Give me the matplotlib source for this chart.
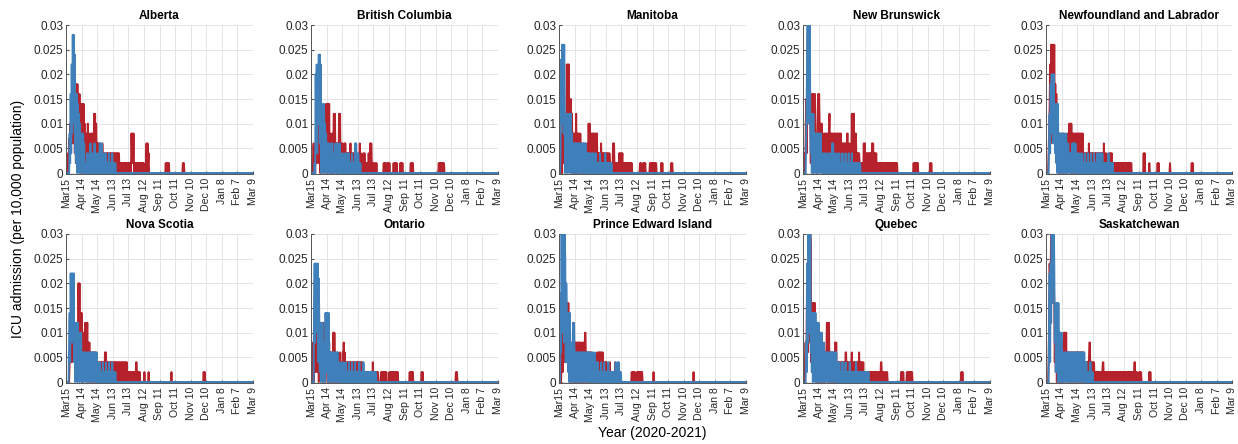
import numpy as np
import matplotlib
matplotlib.use("Agg")
import matplotlib.pyplot as plt

plt.rcParams['font.family'] = ['Liberation Sans', 'DejaVu Sans']

# Daily ICU admissions per 10,000 population, 15 Mar 2020 - 9 Mar 2021.
# Each series is a list of (first_day, daily values) blocks, values in
# thousandths; days outside every block are zero.
N_DAYS = 361
UNIT = 1e-3

provinces = ["Alberta", "British Columbia", "Manitoba", "New Brunswick",
             "Newfoundland and Labrador", "Nova Scotia", "Ontario",
             "Prince Edward Island", "Quebec", "Saskatchewan"]

date_ticks = list(range(0, 361, 30))
date_labels = ["Mar15", "Apr 14", "May 14", "Jun 13", "Jul 13", "Aug 12",
               "Sep 11", "Oct 11", "Nov 10", "Dec 10", "Jan 8", "Feb 7", "Mar 9"]

ab_blue = [(6, [
    0, 8, 2, 16, 4, 22, 8, 28, 14, 28,
    10, 24, 4, 16, 2, 16, 0, 14, 2, 12,
    0, 10, 2, 8, 0, 6, 2, 8, 0, 6,
    0, 2, 0, 2, 0, 4, 0, 2, 0, 4,
    0, 6, 0, 2, 0, 4, 0, 2, 0, 6,
    0, 4, 0, 2, 0, 4, 0, 2, 0, 6,
    0, 2, 0, 6, 0, 2, 0, 4, 0, 2,
    0, 4, 0, 2, 0, 2, 0, 4, 0, 2,
    0, 2, 0, 4, 0, 2, 0, 2, 0, 2])]
ab_red = [(3, [
    0, 4, 0, 7, 2, 10, 4, 12, 6, 16,
    8, 16, 6, 14, 4, 16, 2, 18, 6, 18,
    4, 12, 6, 16, 0, 10, 4, 14, 2, 14,
    0, 14, 4, 10, 0, 8, 2, 8, 0, 10,
    4, 8, 0, 6, 2, 8, 0, 8, 4, 8,
    0, 12, 2, 12, 0, 10, 4, 6, 0, 6,
    2, 6, 0, 6, 2, 4, 0, 6, 2, 4,
    0, 4, 2, 4, 0, 4, 2, 4, 0, 4,
    2, 4, 0, 4, 2, 4, 0, 4, 2, 4,
    0, 4, 2, 4, 0, 4, 0, 4, 2, 4,
    0, 2, 0, 2, 0, 2, 0, 2, 0, 2,
    0, 2, 0, 2, 0, 2, 0, 2, 0, 2,
    0, 2, 0, 8, 4, 8, 2, 8, 0, 2,
    0, 2, 0, 2, 0, 2, 0, 2, 0, 2,
    0, 2, 0, 2, 0, 2, 0, 2, 0, 0,
    0, 2, 6, 0, 6, 2, 4, 0]),
    (192, [2, 0, 2, 0, 2, 0, 2]),
    (225, [2, 0, 2])]

bc_blue = [(6, [
    0, 2, 0, 20, 6, 22, 4, 20, 10, 24,
    12, 24, 6, 22, 0, 12, 2, 14, 0, 14,
    4, 10, 0, 8, 2, 6, 0, 6, 2, 6,
    0, 4, 0, 6, 2, 6, 0, 0, 0, 4,
    0, 6, 2, 4, 0, 6, 0, 4, 2, 6,
    0, 4, 0, 2, 0, 4, 0, 2, 0, 4,
    0, 2, 0, 4, 0, 2, 0, 4, 0, 2,
    0, 2, 0, 4, 0, 2, 0, 2, 0, 6,
    0, 6, 0, 2, 0, 4, 0, 2, 0, 2])]
bc_red = [(3, [
    0, 2, 6, 0, 4, 0, 6, 2, 10, 4,
    8, 2, 12, 4, 12, 0, 10, 2, 8, 4,
    10, 0, 8, 2, 6, 0, 14, 4, 14, 0,
    14, 2, 14, 0, 8, 2, 6, 0, 8, 2,
    6, 12, 0, 12, 4, 6, 0, 6, 2, 6,
    0, 12, 2, 12, 0, 6, 2, 6, 0, 4,
    2, 6, 0, 6, 2, 4, 0, 4, 2, 4,
    0, 4, 2, 6, 0, 4, 2, 4, 0, 4,
    0, 2, 0, 4, 2, 4, 0, 2, 0, 4,
    2, 6, 0, 4, 0, 2, 0, 2, 4, 0,
    4, 0, 2, 0, 2, 0, 2, 0, 4, 0,
    2, 6, 0, 6, 2, 0, 2, 0, 2, 0,
    0, 2, 0, 2]),
    (140, [2, 0, 2, 0, 2, 0, 0, 2, 0, 2, 0, 2]),
    (159, [2, 0, 2, 0, 2, 0, 2]),
    (172, [2, 0, 2, 0, 2]),
    (192, [2, 0, 2, 0, 2]),
    (246, [2, 0, 2, 0, 2, 0, 2, 0, 2, 0, 2])]

mb_blue = [(2, [
    0, 4, 23, 12, 26, 10, 26, 8, 26, 12,
    0, 12, 4, 12, 0, 12, 2, 12, 0, 12,
    2, 12, 0, 8, 2, 6, 0, 6, 2, 6,
    0, 6, 0, 6, 2, 6, 0, 6, 0, 6,
    2, 6, 0, 6, 0, 6, 2, 6, 0, 6,
    0, 4, 0, 4, 2, 4, 0, 4, 0, 4,
    0, 2, 0, 4, 0, 4, 0, 2, 0, 4,
    0, 2, 0, 2, 0, 2, 0, 4, 0, 2,
    0, 2, 0, 2, 0, 2, 0, 4, 0, 2,
    0, 2, 0, 2, 0, 2, 0, 2, 0, 2])]
mb_red = [(3, [
    0, 2, 8, 0, 12, 4, 12, 2, 12, 4,
    8, 2, 22, 8, 22, 4, 22, 6, 10, 2,
    15, 4, 12, 0, 8, 2, 8, 0, 8, 4,
    12, 2, 8, 0, 8, 2, 8, 0, 8, 2,
    6, 0, 4, 2, 6, 0, 4, 2, 6, 0,
    4, 2, 6, 0, 10, 2, 10, 0, 8, 2,
    8, 0, 8, 4, 8, 0, 8, 2, 8, 0,
    8, 2, 4, 0, 4, 2, 4, 0, 6, 2,
    4, 0, 4, 2, 4, 0, 4, 2, 4, 0,
    4, 2, 4, 0, 4, 2, 0, 2, 0, 2,
    0, 6, 2, 6, 0, 2, 0, 2, 0, 2,
    0, 2, 0, 4, 2, 4, 0, 4, 2, 4,
    0, 2, 0, 2, 0, 2, 0, 2, 0, 2,
    0, 2, 0, 2, 0, 2, 0, 2]),
    (156, [2, 0, 2, 0, 0, 0, 2, 0, 2, 0, 2]),
    (175, [2, 0, 2, 0, 2, 0, 2, 0, 2, 0, 2, 0, 2, 0]),
    (197, [2, 0, 2]),
    (216, [2, 0, 2])]

nb_blue = [(5, [
    0, 6, 14, 24, 34, 10, 34, 14, 34, 12,
    4, 12, 0, 12, 2, 12, 0, 8, 2, 8,
    0, 8, 2, 8, 0, 8, 2, 8, 0, 8,
    2, 4, 0, 4, 0, 2, 0, 4, 0, 2,
    0, 4, 0, 2, 0, 4, 0, 2, 0, 4,
    0, 6, 0, 6, 0, 2, 0, 4, 0, 2,
    0, 4, 0, 2, 0, 4, 0, 2, 0, 2,
    0, 4, 0, 2, 0, 2, 0, 4, 0, 2,
    0, 2, 0, 4, 0, 2, 0, 2, 0, 4,
    0, 2, 0, 2, 0, 2, 0, 2, 0, 2,
    0, 2, 0, 2, 0, 2])]
nb_red = [(2, [
    0, 4, 0, 6, 15, 4, 20, 28, 30, 32,
    30, 28, 10, 2, 10, 16, 4, 16, 0, 16,
    6, 16, 8, 4, 6, 0, 8, 16, 2, 16,
    10, 4, 10, 2, 10, 0, 6, 2, 8, 0,
    8, 2, 8, 0, 8, 4, 8, 0, 8, 12,
    2, 8, 0, 8, 4, 8, 0, 8, 2, 8,
    0, 8, 4, 8, 0, 8, 2, 8, 0, 8,
    4, 8, 0, 6, 2, 6, 0, 6, 4, 6,
    0, 6, 2, 8, 8, 0, 4, 2, 6, 0,
    4, 2, 12, 0, 12, 2, 12, 0, 8, 4,
    8, 0, 4, 2, 4, 0, 4, 2, 0, 2,
    0, 2, 0, 2, 0, 6, 2, 6, 0, 4,
    2, 4, 0, 4, 2, 4, 0, 4, 0, 4,
    2, 6, 0, 6, 2, 4, 0, 4, 2, 4,
    0, 2, 0, 2, 0, 2, 0, 2, 0, 2,
    0, 2, 0, 2, 0, 2, 0, 2, 0, 2,
    0, 2, 0, 2, 0, 2, 0, 2, 0, 2,
    0, 2, 0, 2, 0, 2, 0, 2, 0, 2]),
    (213, [2, 0, 2, 0, 2, 0, 2, 0, 2, 0]),
    (245, [2, 0, 2, 0])]

nl_blue = [(5, [
    0, 6, 12, 4, 18, 8, 20, 10, 20, 6,
    20, 8, 14, 4, 14, 2, 14, 0, 14, 4,
    8, 0, 8, 2, 8, 0, 8, 2, 8, 0,
    8, 2, 6, 0, 8, 2, 4, 0, 6, 2,
    4, 0, 4, 0, 4, 2, 6, 0, 6, 2,
    6, 0, 6, 2, 4, 0, 4, 0, 2, 0,
    4, 0, 2, 0, 4, 0, 2, 0, 2, 0,
    4, 0, 2, 0, 2, 0, 4, 0, 2, 0,
    2, 0, 4, 0, 2, 0, 2, 0, 4, 0,
    2, 0, 2, 0, 4, 0, 2, 0, 4, 0,
    4, 0, 2, 0, 4, 0, 2, 0, 2, 0,
    2, 0, 2, 0, 2, 0, 4, 0, 2, 0,
    2, 0, 2, 0, 2])]
nl_red = [(4, [
    0, 4, 8, 13, 22, 6, 26, 10, 26, 8,
    26, 12, 26, 10, 18, 6, 16, 4, 12, 2,
    6, 0, 8, 2, 6, 0, 8, 2, 6, 0,
    8, 2, 6, 0, 8, 2, 6, 0, 8, 2,
    6, 10, 4, 10, 2, 10, 0, 8, 2, 8,
    0, 8, 4, 8, 0, 8, 2, 8, 0, 8,
    4, 8, 0, 8, 2, 8, 0, 8, 2, 4,
    0, 4, 2, 4, 0, 4, 2, 4, 0, 6,
    2, 4, 0, 4, 2, 4, 0, 4, 0, 4,
    2, 4, 0, 4, 2, 4, 0, 4, 2, 4,
    0, 4, 2, 4, 0, 4, 2, 0, 6, 2,
    4, 0, 2, 4, 0, 2, 0, 2, 0, 4,
    2, 4, 0, 4, 0, 2, 0, 2, 0, 2,
    0, 2, 0, 2, 0, 2, 0, 2, 0, 2,
    0, 2, 0, 2, 0, 2, 0, 2, 0, 2,
    0, 2, 0, 2, 0, 2, 0, 2, 0, 2,
    0, 2]),
    (189, [4, 0, 4]),
    (200, [2, 0]),
    (216, [2, 0, 2, 0]),
    (240, [2, 0]),
    (282, [2, 0, 2])]

ns_blue = [(5, [
    0, 8, 14, 4, 22, 12, 22, 8, 22, 10,
    22, 4, 12, 0, 12, 2, 12, 0, 12, 2,
    8, 0, 10, 2, 10, 0, 6, 2, 6, 0,
    6, 2, 6, 0, 4, 2, 6, 0, 6, 2,
    6, 0, 6, 2, 6, 0, 6, 2, 6, 0,
    6, 2, 6, 0, 6, 0, 4, 0, 2, 0,
    4, 0, 2, 0, 2, 0, 4, 0, 2, 0,
    2, 0, 4, 0, 2, 0, 2, 0, 4, 0,
    2, 0, 2, 0, 4, 0, 2, 0, 2, 0,
    2])]
ns_red = [(6, [
    0, 4, 6, 10, 16, 4, 18, 8, 14, 6,
    12, 4, 8, 2, 10, 4, 8, 2, 20, 6,
    20, 4, 14, 2, 14, 0, 10, 2, 8, 4,
    10, 12, 2, 12, 4, 12, 0, 8, 2, 8,
    0, 6, 2, 6, 0, 6, 2, 6, 0, 6,
    2, 6, 0, 4, 2, 4, 0, 4, 2, 4,
    0, 4, 2, 4, 0, 4, 2, 4, 0, 6,
    2, 6, 0, 4, 2, 4, 0, 4, 2, 4,
    0, 4, 2, 4, 0, 4, 2, 4, 0, 4,
    2, 4, 0, 4, 2, 4, 0, 4, 2, 4,
    0, 4, 2, 4, 0, 4, 2, 4, 0, 4,
    2, 4, 0, 2, 0, 2, 0, 2, 0, 2,
    0, 2, 0, 2, 0, 2, 0, 2, 0, 4,
    4, 0, 2, 0, 2, 0, 2, 0]),
    (151, [2, 0]),
    (159, [2, 0]),
    (203, [2, 0]),
    (265, [2, 0, 2, 0])]

on_blue = [(5, [
    0, 16, 24, 8, 24, 12, 24, 10, 24, 4,
    21, 12, 2, 12, 0, 12, 2, 12, 0, 8,
    2, 8, 0, 14, 2, 14, 4, 14, 0, 14,
    2, 6, 0, 6, 2, 6, 0, 6, 6, 0,
    6, 2, 6, 0, 6, 2, 6, 0, 4, 0,
    4, 0, 2, 0, 4, 0, 2, 0, 4, 0,
    2, 0, 4, 0, 2, 0, 2, 0, 4, 0,
    2, 0, 2, 0, 4, 0, 2, 0, 2, 0,
    4, 0, 2, 0, 2, 0, 2, 0, 4, 0,
    2, 0, 2, 0, 2, 0, 4, 0, 2, 0,
    2, 0, 2, 0, 2, 0, 2, 0, 2, 0,
    2, 0, 2, 0, 2, 0, 2, 0, 2, 0,
    2, 0])]
on_red = [(3, [
    0, 8, 0, 14, 6, 14, 2, 12, 4, 10,
    2, 8, 0, 6, 2, 8, 4, 12, 2, 12,
    0, 12, 4, 8, 0, 6, 14, 2, 14, 0,
    6, 2, 8, 0, 6, 2, 6, 0, 4, 2,
    10, 0, 10, 4, 6, 0, 4, 2, 6, 0,
    4, 2, 6, 0, 4, 2, 4, 0, 6, 2,
    8, 0, 6, 2, 4, 0, 4, 2, 4, 0,
    4, 2, 4, 0, 4, 2, 4, 0, 4, 2,
    4, 0, 4, 2, 4, 0, 4, 2, 4, 0,
    4, 2, 4, 0, 4, 2, 4, 0, 2, 0,
    2, 0, 2, 0, 2, 0, 2, 0, 2, 0,
    2, 0, 2, 0, 2, 0, 4, 0, 2, 0,
    2, 0, 2, 0, 2, 0, 2, 0, 0, 0,
    0, 0, 2, 0, 2, 0, 2, 0, 2, 0,
    2, 0, 2, 0, 0, 0, 0, 0, 2, 0,
    2, 0, 2, 0, 2, 0, 2, 0, 2, 0,
    2, 0, 2, 0, 2, 0]),
    (190, [2, 0, 2, 0, 2, 0, 2, 0]),
    (213, [2, 0, 2]),
    (279, [2, 0, 2])]

pe_blue = [(2, [
    0, 18, 6, 34, 10, 34, 12, 34, 8, 30,
    25, 4, 20, 14, 4, 14, 2, 14, 0, 14,
    2, 8, 0, 6, 2, 12, 0, 12, 4, 6,
    0, 6, 2, 6, 0, 6, 2, 6, 0, 6,
    2, 6, 0, 6, 2, 6, 0, 6, 2, 6,
    0, 6, 2, 6, 0, 6, 2, 6, 0, 6,
    0, 4, 0, 6, 0, 4, 2, 6, 0, 4,
    0, 4, 0, 4, 0, 2, 0, 2, 0, 4,
    0, 2, 0, 2, 0, 4, 0, 2, 0, 2,
    0, 2, 0, 4, 0, 2, 0, 2, 0, 2,
    0, 2, 0, 2, 0, 2, 0, 4, 0, 2,
    0, 4, 0, 4, 0, 2, 0, 2, 0])]
pe_red = [(4, [
    0, 4, 10, 2, 16, 4, 20, 6, 12, 4,
    16, 8, 16, 4, 16, 2, 6, 0, 8, 2,
    6, 0, 8, 2, 6, 0, 8, 2, 8, 0,
    8, 2, 8, 0, 8, 2, 8, 0, 8, 2,
    6, 0, 8, 2, 8, 0, 10, 10, 2, 6,
    0, 6, 2, 6, 0, 6, 2, 6, 0, 6,
    2, 4, 0, 4, 2, 4, 0, 4, 2, 4,
    6, 0, 6, 2, 6, 0, 6, 2, 6, 0,
    6, 2, 4, 0, 4, 2, 4, 0, 4, 2,
    2, 0, 2, 0, 4, 0, 2, 0, 2, 0,
    2, 0, 2, 0, 4, 0, 2, 0, 2]),
    (140, [2, 0, 2, 0, 2, 0, 2]),
    (150, [2, 0, 2, 0, 2, 0, 2, 0, 2, 0, 2]),
    (182, [2, 0]),
    (259, [2, 0])]

qc_blue = [(5, [
    0, 8, 2, 24, 8, 34, 12, 34, 10, 34,
    6, 14, 2, 14, 0, 14, 4, 14, 0, 14,
    2, 12, 0, 12, 4, 12, 0, 8, 2, 10,
    0, 10, 2, 6, 0, 8, 2, 6, 0, 6,
    2, 6, 0, 6, 2, 6, 0, 6, 2, 6,
    0, 6, 2, 6, 0, 6, 2, 6, 0, 6,
    0, 4, 0, 2, 0, 4, 0, 2, 0, 2,
    0, 4, 0, 2, 0, 2, 0, 4, 0, 2,
    0, 2, 0, 2, 0, 4, 0, 2, 0, 2,
    0, 2, 0, 2, 0, 2, 0, 4, 0, 2,
    0, 2, 0, 2, 0, 2, 0, 2, 0, 2,
    0, 2, 0, 2, 0, 2, 0, 2, 0, 2,
    0, 2])]
qc_red = [(3, [
    0, 4, 8, 2, 10, 24, 6, 30, 12, 30,
    8, 30, 28, 4, 16, 2, 16, 4, 16, 2,
    16, 4, 12, 0, 8, 2, 10, 0, 8, 2,
    10, 0, 8, 2, 6, 0, 6, 2, 6, 0,
    6, 2, 6, 12, 4, 12, 0, 12, 2, 6,
    0, 6, 2, 6, 0, 6, 2, 6, 0, 8,
    2, 8, 0, 4, 2, 4, 0, 4, 2, 4,
    0, 4, 2, 4, 0, 4, 2, 4, 0, 6,
    6, 0, 4, 2, 4, 0, 4, 2, 4, 0,
    4, 6, 0, 4, 2, 4, 0, 4, 2, 4,
    0, 4, 2, 4, 0, 6, 2, 4, 0, 4,
    2, 4, 0, 4, 0, 2, 0, 2, 0, 2,
    0, 2, 0, 2, 0, 2, 0, 2, 0, 2,
    0, 2, 0, 2, 0, 2, 0, 2, 0, 2,
    0, 2, 0, 2, 0, 2, 0, 4, 4, 0,
    2, 0, 2, 0, 2, 0, 0, 2, 0, 2]),
    (189, [2, 0, 2, 0, 2, 0]),
    (200, [2, 0, 2, 0, 2, 0, 2, 0, 2, 0, 2]),
    (305, [2, 0, 2])]

sk_blue = [(5, [
    0, 10, 22, 4, 24, 12, 34, 16, 34, 20,
    34, 24, 8, 16, 2, 16, 6, 16, 0, 16,
    4, 10, 0, 10, 2, 10, 0, 6, 0, 6,
    2, 6, 0, 6, 2, 6, 0, 6, 2, 6,
    0, 6, 2, 6, 0, 6, 2, 6, 0, 6,
    2, 6, 0, 6, 2, 6, 0, 6, 2, 6,
    0, 6, 2, 6, 0, 6, 2, 6, 0, 6,
    0, 2, 0, 4, 0, 2, 0, 2, 0, 2,
    0, 4, 0, 2, 0, 2])]
sk_red = [(4, [
    0, 4, 12, 24, 20, 22, 32, 30, 32, 24,
    32, 20, 16, 4, 16, 2, 16, 0, 16, 4,
    8, 0, 8, 2, 8, 0, 8, 2, 8, 0,
    8, 10, 2, 10, 0, 10, 2, 6, 0, 6,
    2, 6, 0, 6, 2, 6, 0, 6, 2, 6,
    0, 6, 2, 6, 0, 6, 2, 6, 0, 6,
    2, 6, 0, 6, 2, 6, 0, 6, 2, 6,
    0, 4, 2, 4, 0, 4, 2, 4, 0, 4,
    8, 8, 0, 4, 2, 4, 0, 4, 2, 4,
    0, 2, 0, 2, 0, 2, 0, 2, 0, 2,
    0, 2, 0, 2, 0, 2, 4, 4, 0, 2,
    0, 2, 0, 2, 0, 2, 0, 2, 0, 2,
    0, 2, 0, 2, 0, 2, 0, 2, 0, 2,
    0, 2, 0, 2, 0, 2, 0, 2, 0, 2,
    0, 2, 0, 2, 0, 2, 0, 2, 0, 2,
    0, 2, 0, 2, 0, 2, 0, 2, 0, 2,
    0, 2, 0, 2, 0, 2, 0, 4, 4, 0,
    2, 0, 2, 0, 0, 0, 2, 0, 2, 0,
    2]),
    (200, [2, 0, 2, 0])]

red_series = [ab_red, bc_red, mb_red, nb_red, nl_red,
              ns_red, on_red, pe_red, qc_red, sk_red]
blue_series = [ab_blue, bc_blue, mb_blue, nb_blue, nl_blue,
               ns_blue, on_blue, pe_blue, qc_blue, sk_blue]

RED = "#B5222B"
BLUE = "#3F80BA"


def daily(blocks):
    y = np.zeros(N_DAYS)
    for start, vals in blocks:
        y[start:start + len(vals)] = vals
    return y * UNIT


W, H = 1238, 444
fig = plt.figure(figsize=(W / 100, H / 100), dpi=100)

col_left = [66, 311, 559, 803, 1046]
col_width = [187, 187, 187, 187, 186]
rows = [(25, 174), (234, 383)]  # (top, bottom) in pixels

days = np.arange(N_DAYS)
y_ticks = [0, 0.005, 0.01, 0.015, 0.02, 0.025, 0.03]
y_labels = ["0", "0.005", "0.01", "0.015", "0.02", "0.025", "0.03"]

for i, name in enumerate(provinces):
    r, c = divmod(i, 5)
    top, bot = rows[r]
    ax = fig.add_axes([col_left[c] / W, 1 - bot / H,
                       col_width[c] / W, (bot - top) / H])
    ax.plot(days, daily(red_series[i]), color=RED, lw=1.4)
    ax.plot(days, daily(blue_series[i]), color=BLUE, lw=1.4)
    ax.set_xlim(0, 360)
    ax.set_ylim(-0.0002, 0.03)
    ax.set_xticks(date_ticks)
    ax.set_xticklabels(date_labels, rotation=90, fontsize=7.6)
    ax.set_yticks(y_ticks)
    ax.set_yticklabels(y_labels, fontsize=8.5)
    ax.grid(True, color="#e4e4e4", lw=0.7)
    ax.set_axisbelow(True)
    for s in ("top", "right"):
        ax.spines[s].set_visible(False)
    for s in ("left", "bottom"):
        ax.spines[s].set_color("#555555")
        ax.spines[s].set_linewidth(0.7)
    ax.tick_params(length=2, direction="in", color="#555555",
                   labelcolor="#262626", pad=2)
    ax.tick_params(axis="x", pad=3)
    ax.set_title(name, fontsize=8.5, fontweight="bold", pad=4)

fig.text(18 / W, 1 - 219 / H, "ICU admission (per 10,000 population)",
         rotation=90, fontsize=10, ha="center", va="center")
fig.text(652 / W, 1 - 433 / H, "Year (2020-2021)", fontsize=10,
         ha="center", va="center")

fig.savefig("out.png", dpi=100)
